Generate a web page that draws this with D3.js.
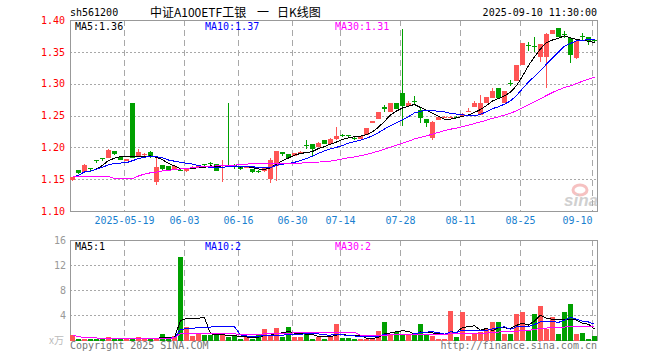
<!DOCTYPE html>
<html>
<head>
<meta charset="utf-8">
<script src="https://cdn.jsdelivr.net/npm/d3@7"></script>
<style>
body { margin: 0; background: #fff; }
svg { display: block; }
text { font-family: "DejaVu Sans Mono", monospace; font-size: 10px; }
</style>
</head>
<body>
<svg id="chart" width="660" height="360"></svg>
<script>
// daily candles, 2025-05-06 .. 2025-09-10
const opens = [1.148,1.164,1.162,1.167,1.180,1.184,1.183,1.194,1.185,1.178,
  1.270,1.186,1.189,1.192,1.145,1.172,1.171,1.164,1.165,1.163,
  1.166,1.170,1.174,1.176,1.174,1.171,1.173,1.173,1.171,1.168,
  1.166,1.163,1.163,1.150,1.171,1.193,1.190,1.186,1.192,1.203,
  1.205,1.200,1.2115,1.206,1.2125,1.220,1.219,1.215,1.2135,1.220,
  1.2385,1.2445,1.263,1.256,1.269,1.285,1.265,1.273,1.2586,1.2445,
  1.2142,1.243,1.2475,1.2475,1.2475,1.250,1.257,1.263,1.251,1.269,
  1.277,1.2927,1.270,1.301,1.3047,1.3293,1.361,1.3585,1.3424,1.3424,
  1.378,1.387,1.3785,1.3712,1.3398,1.3755,1.3738,1.369];
const highs = [1.154,1.165,1.174,1.168,1.180,1.184,1.197,1.194,1.186,1.181,
  1.270,1.198,1.191,1.194,1.183,1.172,1.171,1.171,1.166,1.167,
  1.170,1.173,1.174,1.177,1.174,1.180,1.270,1.174,1.171,1.170,
  1.166,1.165,1.168,1.184,1.195,1.193,1.190,1.191,1.194,1.2115,
  1.205,1.208,1.2115,1.214,1.232,1.221,1.220,1.216,1.218,1.231,
  1.241,1.256,1.267,1.269,1.270,1.3854,1.272,1.281,1.2613,1.2445,
  1.241,1.249,1.249,1.250,1.249,1.254,1.261,1.273,1.282,1.279,
  1.2927,1.2927,1.289,1.305,1.3293,1.364,1.365,1.374,1.363,1.379,
  1.385,1.388,1.382,1.374,1.368,1.380,1.3738,1.370];
const lows = [1.147,1.158,1.160,1.163,1.176,1.179,1.183,1.188,1.180,1.178,
  1.184,1.186,1.187,1.183,1.141,1.165,1.163,1.164,1.163,1.162,
  1.166,1.168,1.170,1.172,1.163,1.145,1.170,1.166,1.165,1.167,
  1.160,1.160,1.162,1.1435,1.147,1.186,1.183,1.186,1.192,1.197,
  1.185,1.200,1.205,1.206,1.212,1.217,1.216,1.212,1.2135,1.220,
  1.238,1.244,1.255,1.256,1.260,1.2335,1.264,1.268,1.2387,1.2324,
  1.212,1.243,1.246,1.246,1.246,1.250,1.255,1.263,1.251,1.269,
  1.277,1.277,1.270,1.296,1.3047,1.329,1.352,1.350,1.3345,1.2927,
  1.378,1.3738,1.371,1.333,1.339,1.368,1.3607,1.366];
const closes = [1.153,1.159,1.172,1.166,1.179,1.183,1.196,1.190,1.180,1.181,
  1.184,1.193,1.190,1.185,1.169,1.166,1.163,1.171,1.164,1.166,
  1.169,1.171,1.173,1.175,1.163,1.172,1.172,1.172,1.166,1.169,
  1.161,1.162,1.168,1.180,1.195,1.190,1.183,1.191,1.193,1.202,
  1.198,1.207,1.205,1.2135,1.218,1.219,1.218,1.2145,1.218,1.230,
  1.241,1.255,1.260,1.269,1.260,1.265,1.270,1.2725,1.2456,1.2377,
  1.2403,1.248,1.248,1.248,1.247,1.253,1.2575,1.269,1.270,1.2786,
  1.289,1.277,1.289,1.300,1.3293,1.3634,1.3605,1.358,1.3623,1.378,
  1.3843,1.3738,1.378,1.345,1.3675,1.375,1.3675,1.367];
// MA30 for the first 29 days (window reaches before the chart)
const ma30Head = [1.154,1.154,1.154,1.154,1.154,1.154,1.154,1.151,1.151,1.151,
  1.151,1.155,1.158,1.160,1.161,1.163,1.164,1.165,1.166,1.167,
  1.168,1.169,1.170,1.170,1.171,1.171,1.172,1.172,1.173];
// volume, unit 万
const volumes = [0.9,0.3,0.3,0.25,0.25,0.25,0.5,0.25,0.25,0.25,
  0.25,0.5,0.25,0.25,0.4,1.05,0.4,0.65,13.4,2.2,
  0.65,1.05,0.85,0.85,1.0,0.85,0.5,0.65,0.3,0.5,
  0.3,0.9,1.9,0.65,2.0,0.6,2.1,0.6,0.5,1.2,
  0.3,0.6,0.3,0.5,2.7,0.4,0.4,0.3,0.3,0.3,
  0.3,1.5,3.0,1.0,1.3,1.0,0.9,0.9,2.7,0.9,
  0.65,0.3,0.3,4.8,0.5,4.6,0.8,1.05,1.3,1.9,
  2.9,2.9,1.05,1.05,4.2,4.6,1.5,4.3,5.6,1.8,
  3.8,1.05,4.6,5.9,1.05,1.2,0.3,0.65];

const dateTickIndex = [9, 19, 28, 37, 45, 55, 65, 75, 87];
const dateTickLabels = ['2025-05-19','06-03','06-16','06-30','07-14','07-28','08-11','08-25','09-10'];
const priceTicks = [1.10, 1.15, 1.20, 1.25, 1.30, 1.35, 1.40];
const volumeTicks = [4, 8, 12, 16];
const maPeriods = [5, 10, 30];
const maColors = ['#000000', '#0000ff', '#ff00ff'];
const priceLegend = ['MA5:1.36', 'MA10:1.37', 'MA30:1.31'];
const volumeLegend = ['MA5:1', 'MA10:2', 'MA30:2'];

const RED = '#ff5555';
const GREEN = '#00a000';
const GRID = '#a8a8a8';

const svg = d3.select('#chart');
const n = closes.length;

const x = d3.scaleBand().domain(d3.range(n)).range([69.5, 597.5])
    .paddingInner(1/6).paddingOuter(1/12);
const xt = d3.scaleLinear().domain([0, n]).range([70, 598]);
const y = d3.scaleLinear().domain([1.10, 1.40]).range([211, 20]);
const yv = d3.scaleLinear().domain([0, 16]).range([340.5, 240.5]);
const cx = i => x(i) + x.bandwidth() / 2;
const colorOf = i => closes[i] >= opens[i] ? RED : GREEN;

function movingAverage(values, k, head) {
    return values.map((v, i) => {
        if (head && i < k - 1) return head[i];
        return d3.mean(values.slice(Math.max(0, i - k + 1), i + 1));
    });
}

// grid
const grid = svg.append('g').attr('stroke', GRID).attr('shape-rendering', 'crispEdges');
grid.selectAll('.hp').data(priceTicks.slice(1, -1)).join('line')
    .attr('x1', 70).attr('x2', 598)
    .attr('y1', d => Math.round(y(d)) + 0.5).attr('y2', d => Math.round(y(d)) + 0.5)
    .attr('stroke-dasharray', '2,2');
grid.selectAll('.hv').data(volumeTicks.slice(0, -1)).join('line')
    .attr('x1', 70).attr('x2', 598)
    .attr('y1', d => Math.round(yv(d) - 0.5) + 0.5).attr('y2', d => Math.round(yv(d) - 0.5) + 0.5)
    .attr('stroke-dasharray', '2,2');
[[20, 211], [240, 341]].forEach(([t, b]) => {
    grid.append('g').selectAll('line').data(dateTickIndex).join('line')
        .attr('x1', d => xt(d) + 0.5).attr('x2', d => xt(d) + 0.5)
        .attr('y1', t).attr('y2', b)
        .attr('stroke-dasharray', '6,4');
});

// frames
svg.append('rect').attr('x', 70.5).attr('y', 20.5).attr('width', 527).attr('height', 191)
    .attr('fill', 'none').attr('stroke', '#999');
svg.append('rect').attr('x', 70.5).attr('y', 240.5).attr('width', 527).attr('height', 100)
    .attr('fill', 'none').attr('stroke', '#999');

// sina watermark
const logo = svg.append('g').attr('opacity', 0.55);
logo.append('ellipse').attr('cx', 580).attr('cy', 190).attr('rx', 7).attr('ry', 5)
    .attr('fill', 'none').attr('stroke', '#f09090').attr('stroke-width', 3);
logo.append('text').attr('x', 564).attr('y', 206).text('sina')
    .style('font-family', 'Liberation Sans').style('font-style', 'italic')
    .style('font-weight', 'bold').style('font-size', '17px').attr('fill', '#aaa');

// volume bars
svg.append('g').attr('shape-rendering', 'crispEdges')
    .selectAll('rect').data(volumes).join('rect')
    .attr('x', (d, i) => x(i)).attr('width', x.bandwidth())
    .attr('y', d => yv(d)).attr('height', d => 340.5 - yv(d))
    .attr('fill', (d, i) => colorOf(i));

// candles
const candles = svg.append('g').attr('shape-rendering', 'crispEdges');
candles.selectAll('line').data(d3.range(n)).join('line')
    .attr('x1', cx).attr('x2', cx)
    .attr('y1', i => y(highs[i])).attr('y2', i => y(lows[i]))
    .attr('stroke', colorOf);
candles.selectAll('rect').data(d3.range(n)).join('rect')
    .attr('x', i => x(i)).attr('width', x.bandwidth())
    .attr('y', i => y(Math.max(opens[i], closes[i])))
    .attr('height', i => Math.max(1, Math.abs(y(opens[i]) - y(closes[i]))))
    .attr('fill', colorOf);

// moving averages
const priceLine = d3.line().x((d, i) => cx(i)).y(d => y(d));
const volumeLine = d3.line().x((d, i) => cx(i)).y(d => yv(d));
maPeriods.forEach((k, j) => {
    svg.append('path').datum(movingAverage(closes, k, k === 30 ? ma30Head : null))
        .attr('d', priceLine).attr('fill', 'none').attr('shape-rendering', 'crispEdges')
        .attr('stroke', maColors[j]).attr('stroke-width', 1);
    svg.append('path').datum(movingAverage(volumes, k))
        .attr('d', volumeLine).attr('fill', 'none').attr('shape-rendering', 'crispEdges')
        .attr('stroke', maColors[j]).attr('stroke-width', 1);
});

// axes
svg.append('g').attr('transform', 'translate(70,0)')
    .call(d3.axisLeft(y).tickValues(priceTicks).tickFormat(d3.format('.2f')).tickSize(0).tickPadding(5))
    .call(g => g.select('.domain').remove())
    .selectAll('text').attr('fill', '#ff0000');

svg.append('g').attr('transform', 'translate(70,0)')
    .call(d3.axisLeft(yv).tickValues(volumeTicks).tickSize(0).tickPadding(4))
    .call(g => g.select('.domain').remove())
    .selectAll('text').attr('fill', '#999');

const dateAxis = svg.append('g').attr('transform', 'translate(0,211)')
    .call(d3.axisBottom(xt).tickValues(dateTickIndex)
        .tickFormat((d, k) => dateTickLabels[k]).tickSize(0).tickPadding(6))
    .call(g => g.select('.domain').remove());
dateAxis.selectAll('text').attr('fill', '#1a7fcf');
dateAxis.selectAll('text').filter((d, k) => k === dateTickIndex.length - 1)
    .attr('text-anchor', 'end');

// legends
const legendX = [75, 205, 335];
priceLegend.forEach((t, j) => {
    svg.append('text').attr('x', legendX[j]).attr('y', 30).attr('fill', maColors[j]).text(t);
});
volumeLegend.forEach((t, j) => {
    svg.append('text').attr('x', legendX[j]).attr('y', 250).attr('fill', maColors[j]).text(t);
});

// header and footer
svg.append('text').attr('x', 70).attr('y', 16).text('sh561200');
const title = svg.append('text').attr('y', 17)
    .style('font-family', '"Noto Sans CJK SC", sans-serif').style('font-size', '12px');
title.append('tspan').attr('x', 150).text('中证A100ETF工银');
title.append('tspan').attr('x', 257).text('一');
title.append('tspan').attr('x', 277).text('日K线图');
svg.append('text').attr('x', 597).attr('y', 16).attr('text-anchor', 'end').text('2025-09-10 11:30:00');
svg.append('text').attr('x', 64).attr('y', 344).attr('text-anchor', 'end')
    .attr('fill', '#bbb').style('font-family', '"Noto Sans CJK SC", sans-serif')
    .text('x万');
svg.append('text').attr('x', 70).attr('y', 349).attr('fill', '#777').text('Copyright 2025 SINA.COM');
svg.append('text').attr('x', 597).attr('y', 349).attr('text-anchor', 'end').attr('fill', '#777')
    .text('http://finance.sina.com.cn');
</script>
</body>
</html>
